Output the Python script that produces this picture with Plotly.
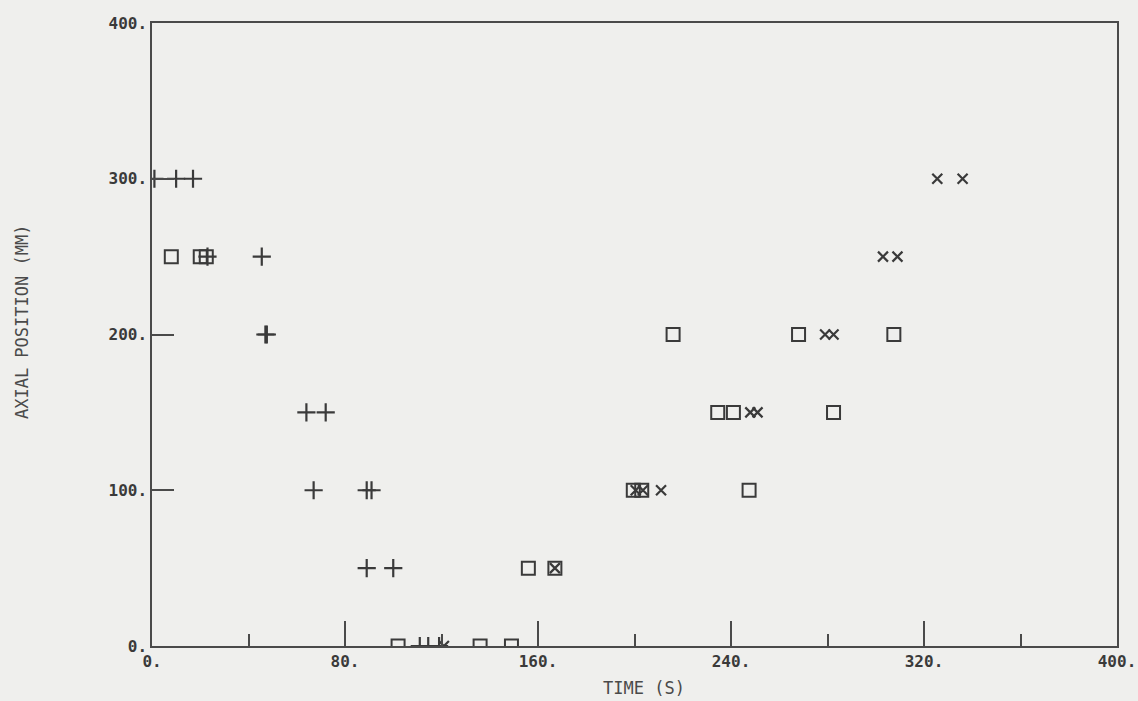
import plotly.graph_objects as go

# Series: time (s) and axial position (mm)
plus_time = [1, 10, 17, 23, 45.5, 47, 47.6, 64, 72, 67, 89, 91, 89, 100, 111, 114.5, 119]
plus_pos = [300, 300, 300, 250, 250, 200, 200, 150, 150, 100, 100, 100, 50, 50, 0, 0, 0]

square_time = [8, 20, 22.5, 102, 136, 149, 156, 167, 199.5, 203, 247.5, 234.5, 241, 282.5, 216, 268, 307.5]
square_pos = [250, 250, 250, 0, 0, 0, 50, 50, 100, 100, 100, 150, 150, 150, 200, 200, 200]

cross_time = [121, 167, 200.5, 203.5, 211, 248, 251, 279, 282.5, 303, 309, 325.5, 336]
cross_pos = [0, 50, 100, 100, 100, 150, 150, 200, 200, 250, 250, 300, 300]

x_ticks = [0, 80, 160, 240, 320, 400]
x_labels = ["0.", "80.", "160.", "240.", "320.", "400."]
y_ticks = [0, 100, 200, 300, 400]
y_labels = ["0.", "100.", "200.", "300.", "400."]

ink = "#3a3a3a"
font = "DejaVu Sans Mono"

fig = go.Figure()
fig.add_trace(go.Scatter(x=plus_time, y=plus_pos, mode="markers",
                         marker=dict(symbol="cross-thin", size=13, line=dict(color=ink, width=2.2))))
fig.add_trace(go.Scatter(x=square_time, y=square_pos, mode="markers",
                         marker=dict(symbol="square-open", size=13, color=ink, line=dict(color=ink, width=2))))
fig.add_trace(go.Scatter(x=cross_time, y=cross_pos, mode="markers",
                         marker=dict(symbol="x-thin", size=10, line=dict(color=ink, width=2.2))))

axis_common = dict(showgrid=False, zeroline=False, showline=True, linecolor="#4a4a4a", linewidth=1.5,
                   mirror=True, ticks="inside", tickcolor="#4a4a4a", tickwidth=1.5, automargin=False,
                   tickfont=dict(family=font, size=16, color="#3a3a3a", weight="bold"))

fig.update_layout(
    width=1138, height=701,
    margin=dict(l=152, r=21, t=23, b=55),
    paper_bgcolor="#efefed", plot_bgcolor="#efefed",
    showlegend=False,
    xaxis=dict(range=[0, 400], tickvals=x_ticks, ticktext=x_labels, ticklen=25,
               minor=dict(ticks="inside", tickvals=[40, 120, 200, 280, 360], ticklen=12,
                          tickcolor="#4a4a4a", tickwidth=1.5),
               **axis_common),
    yaxis=dict(range=[0, 400], tickvals=y_ticks, ticktext=y_labels, ticklen=22, **axis_common),
    annotations=[
        dict(text="TIME (S)", x=0.51, y=0, xref="paper", yref="paper", yshift=-42,
             showarrow=False, font=dict(family=font, size=17, color="#4a4a4a"),
             xanchor="center", yanchor="middle"),
        dict(text="AXIAL POSITION (MM)", x=0, y=0.52, xref="paper", yref="paper", xshift=-130,
             showarrow=False, textangle=-90, font=dict(family=font, size=17, color="#4a4a4a"),
             xanchor="center", yanchor="middle"),
    ],
)

fig.write_html("out.html", config={"displayModeBar": False},
               post_script="document.body.style.margin='0';document.body.style.overflow='hidden';")
